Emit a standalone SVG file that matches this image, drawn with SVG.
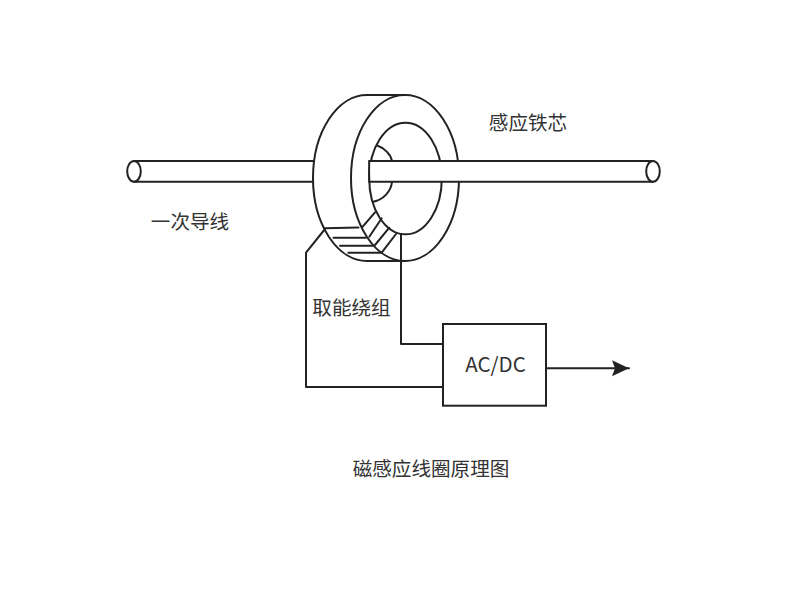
<svg xmlns="http://www.w3.org/2000/svg" width="800" height="600" viewBox="0 0 800 600">
  <style>
    .ln { fill: none; stroke: #222; stroke-width: 2; stroke-linejoin: round; stroke-linecap: round; }
    .solid { fill: #fff; stroke: #222; stroke-width: 2; }
    .lbl { font-family: "Noto Sans CJK SC", "Noto Sans", sans-serif; font-size: 19.6px; fill: #333; text-anchor: middle; }
  </style>
  <defs>
    <marker id="arrow" markerUnits="userSpaceOnUse" markerWidth="18" markerHeight="18" refX="17" refY="9" orient="auto">
      <path d="M0 1 L17 9 L0 17 L3 9 Z" fill="#222"/>
    </marker>
    <clipPath id="bore"><ellipse cx="405.5" cy="178.5" rx="36.3" ry="55.8"/></clipPath>
  </defs>
  <rect width="800" height="600" fill="#fff"/>

  <g id="conductor-left">
    <path class="ln" d="M134 161 H313 M134 181.7 H313"/>
    <ellipse class="ln" cx="134" cy="171.3" rx="6.8" ry="10.4"/>
  </g>

  <g id="core">
    <!-- outer cylinder wall -->
    <path class="solid" d="M405 95 H367 A54 83 0 0 0 367 261 H405 Z"/>
    <ellipse class="solid" cx="405" cy="178" rx="54" ry="83"/>
    <ellipse class="solid" cx="405.5" cy="178.5" rx="36.3" ry="55.8"/>
    <!-- far edge of the bore -->
    <g clip-path="url(#bore)">
      <path class="ln" d="M376 145 C385 148 391 155 392 161 M392 182 C391 191 384 200 372 202"/>
    </g>
  </g>

  <g id="conductor-right">
    <path d="M369.4 161 H653 V181.7 H369.4 Z" fill="#fff"/>
    <path class="ln" d="M369.4 161 H653 M369.4 181.7 H653"/>
    <ellipse class="solid" cx="653" cy="171.3" rx="6.8" ry="10.4"/>
    <path class="ln" d="M369.2 161 C369 168 369 175 369.3 181.7"/>
  </g>

  <g id="winding">
    <path class="ln" d="M325 228.3 L358.5 227.5 M333.5 237.7 L366 237.7 M340 245.7 L373 245.7 M348.3 252.7 L381.7 252.7"/>
    <path class="ln" d="M375 212.3 L362.7 226.7 M381.7 218.3 L369.3 236.7 M389.3 227.7 L375 245 M396 234 L381.7 252.7"/>
  </g>

  <g id="connectors">
    <path class="ln" d="M325 229 L306 252.7 V387 H443"/>
    <path class="ln" d="M401 234 V344 H443"/>
    <path class="ln" d="M546 368.3 H629" marker-end="url(#arrow)"/>
  </g>

  <g id="converter">
    <rect class="solid" x="443" y="324" width="103" height="81.7"/>
    <text class="lbl" x="495.500" y="371.500" style="font-size:20.5px">AC/DC</text>
  </g>

  <g id="labels">
    <text class="lbl" x="190" y="229">一次导线</text>
    <text class="lbl" x="528" y="130">感应铁芯</text>
    <text class="lbl" x="351.500" y="315">取能绕组</text>
    <text class="lbl" x="431" y="476">磁感应线圈原理图</text>
  </g>
</svg>
